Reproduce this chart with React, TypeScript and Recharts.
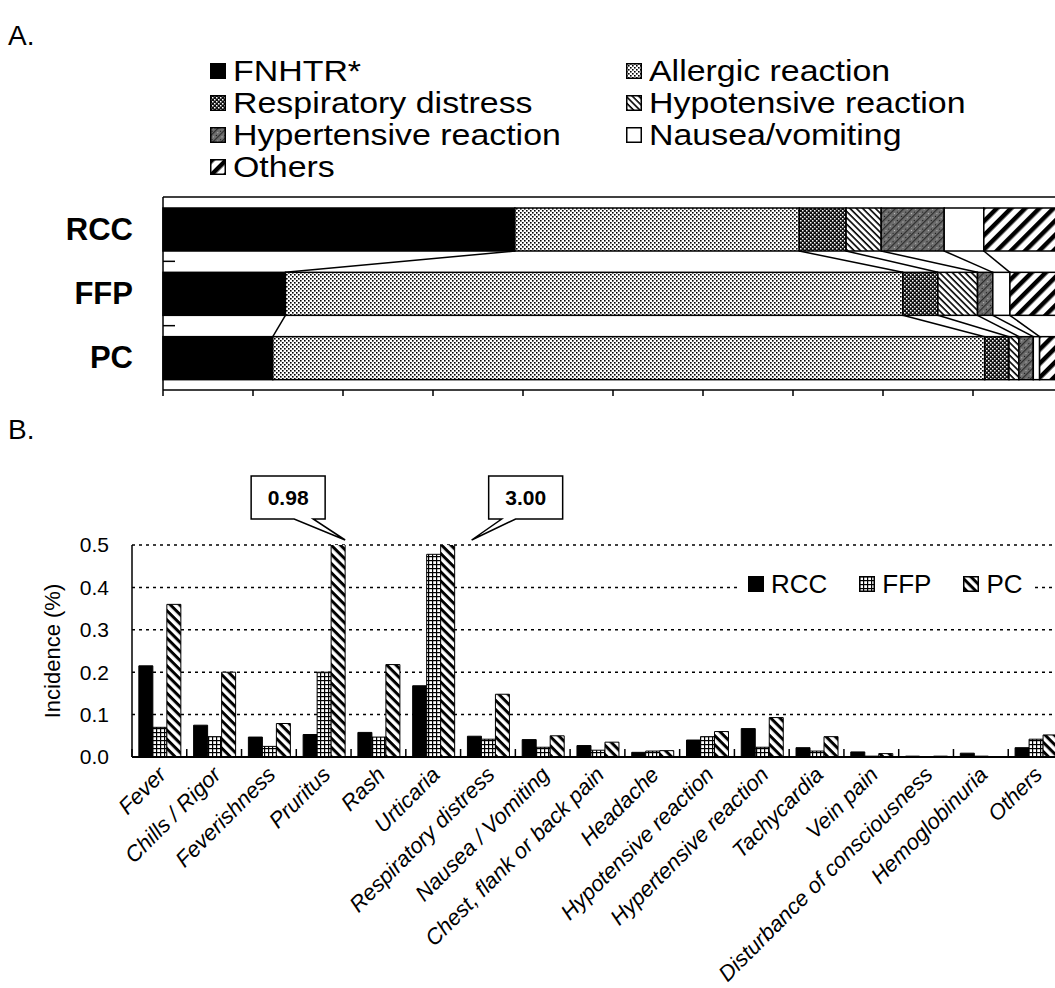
import React from 'react';
import { BarChart, Bar, XAxis, YAxis, CartesianGrid, Legend, LabelList } from 'recharts';

const FONT = 'Arial, "Liberation Sans", Helvetica, sans-serif';

// A. share of each reaction type by blood product (%)
const products = ['RCC', 'FFP', 'PC'];
const reactionKeys = ['fnhtr', 'allergic', 'respiratory', 'hypotensive', 'hypertensive', 'nausea', 'others'];
const reactionNames = ['FNHTR*', 'Allergic reaction', 'Respiratory distress', 'Hypotensive reaction', 'Hypertensive reaction', 'Nausea/vomiting', 'Others'];
const fnhtrShare = [39.1, 13.6, 12.2];
const allergicShare = [31.6, 68.6, 79.1];
const respiratoryShare = [5.2, 3.9, 2.7];
const hypotensiveShare = [3.9, 4.4, 1.1];
const hypertensiveShare = [7.0, 1.7, 1.6];
const nauseaShare = [4.4, 1.9, 0.7];
const othersShare = [8.8, 5.9, 2.6];
const shareTicks = [0, 10, 20, 30, 40, 50, 60, 70, 80, 90, 100];

// B. incidence (%) by symptom
const symptoms = [
  'Fever', 'Chills / Rigor', 'Feverishness', 'Pruritus', 'Rash', 'Urticaria', 'Respiratory distress',
  'Nausea / Vomiting', 'Chest, flank or back pain', 'Headache', 'Hypotensive reaction', 'Hypertensive reaction',
  'Tachycardia', 'Vein pain', 'Disturbance of consciousness', 'Hemoglobinuria', 'Others',
];
const rccIncidence = [0.215, 0.075, 0.047, 0.053, 0.058, 0.168, 0.049, 0.041, 0.027, 0.011, 0.04, 0.067, 0.022, 0.012, 0.002, 0.009, 0.022];
const ffpIncidence = [0.07, 0.048, 0.025, 0.2, 0.047, 0.478, 0.042, 0.023, 0.016, 0.014, 0.048, 0.023, 0.014, 0.002, 0.001, 0.002, 0.042];
const pcIncidence = [0.36, 0.2, 0.079, 0.98, 0.218, 3.0, 0.148, 0.05, 0.035, 0.015, 0.06, 0.093, 0.048, 0.008, 0.002, 0, 0.052];
const incidenceTicks = [0, 0.1, 0.2, 0.3, 0.4, 0.5];
const productKeys = ['RCC', 'FFP', 'PC'];

const shareValues = [fnhtrShare, allergicShare, respiratoryShare, hypotensiveShare, hypertensiveShare, nauseaShare, othersShare];
const shareData = products.map((product, i) => {
  const row: Record<string, any> = { product };
  reactionKeys.forEach((k, s) => { row[k] = shareValues[s][i]; });
  return row;
});
const incidenceData = symptoms.map((symptom, i) => ({
  symptom, RCC: rccIncidence[i], FFP: ffpIncidence[i], PC: pcIncidence[i],
}));

const reactionFills = ['#000', 'url(#pat-allergic)', 'url(#pat-resp)', 'url(#pat-hypo)', 'url(#pat-hyper)', '#fff', 'url(#pat-others)'];
const productFills = ['#000', 'url(#pat-ffp)', 'url(#pat-pc)'];

const CHART_W = 1100;
const RIGHT_M = 37;
const A_TOP = 197;
const A_PLOT_H = 193;
const A_BAR = 43;
const A_LEFT = 163;
const B_TOP = 460;
const B_MARGIN_TOP = 85;
const B_PLOT_H = 212;
const B_LEFT = 132;
const Y_MAX = 0.5;

const cumShare = (s: number, i: number) => shareValues.slice(0, s + 1).reduce((t, a) => t + a[i], 0);

// stacked segment + Excel style series line to the next bar
const makeSegment = (s: number) => (props: any) => {
  const { x, y, width, height, fill, index } = props;
  const band = A_PLOT_H / products.length;
  let link = null;
  if (s < reactionKeys.length - 1 && index < products.length - 1) {
    const px = width / shareValues[s][index];
    const x1 = x + width;
    const y1 = y + height;
    const x2 = x1 + (cumShare(s, index + 1) - cumShare(s, index)) * px;
    const y2 = y1 + band - height;
    link = <line x1={x1} y1={y1} x2={x2} y2={y2} stroke="#000" strokeWidth={1.5} />;
  }
  return (
    <g>
      <rect x={x} y={y} width={width} height={height} fill={fill} stroke="#000" strokeWidth={1.5} />
      {link}
    </g>
  );
};

const ProductTick = ({ x, y, payload, index }: any) => {
  const band = A_PLOT_H / products.length;
  return (
    <g>
      <text x={x} y={y} textAnchor="end" dominantBaseline="central" fontFamily={FONT} fontWeight="bold" fontSize={31} fill="#000">
        {payload.value}
      </text>
      {index < products.length - 1 && (
        <line x1={x + 30} x2={x + 42} y1={y + band / 2} y2={y + band / 2} stroke="#000" strokeWidth={1.5} />
      )}
    </g>
  );
};

const swatch = (fill: string) => (
  <svg width={16} height={16} style={{ marginRight: 7, flex: 'none' }}>
    <rect x={0.75} y={0.75} width={14.5} height={14.5} fill={fill} stroke="#000" strokeWidth={1.5} />
  </svg>
);

const ReactionLegend = ({ payload }: any) => {
  const items = [...(payload || [])].sort((a, b) => reactionKeys.indexOf(a.dataKey) - reactionKeys.indexOf(b.dataKey));
  return (
    <div style={{ display: 'grid', gridTemplateColumns: '416px 416px', fontFamily: FONT, fontSize: 30, lineHeight: '32px', color: '#000' }}>
      {items.map((e: any) => (
        <div key={e.dataKey} style={{ display: 'flex', alignItems: 'center', whiteSpace: 'nowrap', height: 32 }}>
          {swatch(e.color)}
          <span style={{ display: 'inline-block', transform: 'scaleX(1.13)', transformOrigin: 'left center' }}>{e.value}</span>
        </div>
      ))}
    </div>
  );
};

const ProductLegend = ({ payload }: any) => {
  const items = [...(payload || [])].sort((a, b) => productKeys.indexOf(a.dataKey) - productKeys.indexOf(b.dataKey));
  return (
    <div style={{ display: 'flex', alignItems: 'center', background: '#fff', padding: '2px 8px', fontFamily: FONT, fontSize: 26, lineHeight: '28px', color: '#000' }}>
      {items.map((e: any, i: number) => (
        <span key={e.dataKey} style={{ display: 'inline-flex', alignItems: 'center', marginRight: i < items.length - 1 ? 32 : 0 }}>
          {swatch(e.color)}
          {e.value}
        </span>
      ))}
    </div>
  );
};

const SymptomTick = ({ x, y, payload }: any) => {
  const band = (CHART_W - RIGHT_M - B_LEFT) / symptoms.length;
  const off = payload.offset ?? band / 2;
  const tx = x + 8;
  const ty = y + 19;
  return (
    <g>
      <line x1={x - off} x2={x - off} y1={y} y2={y - 8} stroke="#000" strokeWidth={1.5} />
      <text x={tx} y={ty} transform={`rotate(-45 ${tx} ${ty})`} textAnchor="end" fontFamily={FONT} fontStyle="italic" fontSize={22} fill="#000">
        {payload.value}
      </text>
    </g>
  );
};

const AxisTitle = ({ viewBox }: any) => {
  const cx = 52;
  const cy = viewBox ? viewBox.y + viewBox.height / 2 : 651 - B_TOP;
  return (
    <text x={cx} y={cy} transform={`rotate(-90 ${cx} ${cy})`} textAnchor="middle" dominantBaseline="central" fontFamily={FONT} fontSize={22} fill="#000">
      Incidence (%)
    </text>
  );
};

// callouts for the PC bars that run off the top of the axis
const overflowIdx = pcIncidence.map((v, i) => (v > Y_MAX ? i : -1)).filter((i) => i >= 0);
const renderCallout = (props: any) => {
  const vb = props.viewBox && props.viewBox.width !== undefined ? props.viewBox : props;
  const { x, y, width, height } = vb;
  const order = overflowIdx.indexOf(props.index);
  if (order < 0) return null;
  const base = y + height;
  const top = base - B_PLOT_H;
  const left = order === 0;
  const tipX = x + width + (left ? 0 : 17);
  const tipY = top - 5;
  const L = left ? tipX - 94 : tipX + 17;
  const R = L + 74;
  const T = tipY - 64;
  const B = tipY - 21;
  const a = left ? L + 43 : L + 13;
  const b = left ? L + 62 : L + 27;
  const d = `M${L},${T} H${R} V${B} H${b} L${tipX},${tipY} L${a},${B} H${L} Z`;
  return (
    <g>
      <path d={d} fill="#fff" stroke="#000" strokeWidth={1.5} strokeLinejoin="miter" />
      <text x={(L + R) / 2} y={(T + B) / 2} textAnchor="middle" dominantBaseline="central" fontFamily={FONT} fontWeight="bold" fontSize={21} fill="#000">
        {Number(props.value).toFixed(2)}
      </text>
    </g>
  );
};

const ShareChart = () => (
  <BarChart
    width={CHART_W}
    height={A_TOP + A_PLOT_H + 25}
    data={shareData}
    layout="vertical"
    margin={{ top: A_TOP - 1, right: RIGHT_M, bottom: 0, left: 0 }}
    barSize={A_BAR}
  >
    <defs>
      <pattern id="pat-allergic" width="4" height="4" patternUnits="userSpaceOnUse">
        <rect width="4" height="4" fill="#fff" />
        <rect x="0" y="0" width="1.6" height="1.6" fill="#000" />
        <rect x="2" y="2" width="1.6" height="1.6" fill="#000" />
      </pattern>
      <pattern id="pat-resp" width="4" height="4" patternUnits="userSpaceOnUse">
        <rect width="4" height="4" fill="#111" />
        <rect x="0" y="0" width="1.5" height="1.5" fill="#fff" />
        <rect x="2" y="2" width="1.5" height="1.5" fill="#fff" />
      </pattern>
      <pattern id="pat-hypo" width="4.5" height="4.5" patternUnits="userSpaceOnUse" patternTransform="rotate(45)">
        <rect width="4.5" height="4.5" fill="#fff" />
        <rect width="4.5" height="1.6" fill="#000" />
      </pattern>
      <pattern id="pat-hyper" width="6" height="6" patternUnits="userSpaceOnUse" patternTransform="rotate(-45)">
        <rect width="6" height="6" fill="#6e6e6e" />
        <rect width="6" height="1.2" fill="#2a2a2a" />
        <rect x="1" y="3" width="1" height="1" fill="#bbb" />
        <rect x="4" y="4" width="1" height="1" fill="#111" />
      </pattern>
      <pattern id="pat-others" width="10" height="10" patternUnits="userSpaceOnUse" patternTransform="rotate(-45)">
        <rect width="10" height="10" fill="#fff" />
        <rect width="10" height="4.5" fill="#000" />
      </pattern>
    </defs>
    <XAxis xAxisId="top" orientation="top" type="number" domain={[0, 100]} height={1} axisLine={{ stroke: '#000', strokeWidth: 1.5 }} tickLine={false} tick={() => <g />} />
    <XAxis type="number" domain={[0, 100]} ticks={shareTicks} height={25} axisLine={{ stroke: '#000', strokeWidth: 1.5 }} tickLine={{ stroke: '#000', strokeWidth: 1.5 }} tickSize={6} tick={() => <g />} />
    <YAxis type="category" dataKey="product" width={A_LEFT} axisLine={{ stroke: '#000', strokeWidth: 1.5 }} tickLine={false} tickSize={0} tickMargin={30} tick={<ProductTick />} />
    <Legend
      layout="horizontal"
      align="center"
      verticalAlign="middle"
      content={<ReactionLegend />}
      wrapperStyle={{ left: 210, top: 55, width: 860, height: 130 }}
    />
    {reactionKeys.map((k, s) => (
      <Bar
        key={k}
        dataKey={k}
        name={reactionNames[s]}
        stackId="share"
        fill={reactionFills[s]}
        shape={makeSegment(s)}
        isAnimationActive={false}
      />
    ))}
  </BarChart>
);

const IncidenceChart = () => (
  <BarChart
    width={CHART_W}
    height={B_MARGIN_TOP + B_PLOT_H + 231}
    data={incidenceData}
    margin={{ top: B_MARGIN_TOP, right: RIGHT_M, bottom: 0, left: 0 }}
    barCategoryGap="12.5%"
    barGap={0}
  >
    <defs>
      <pattern id="pat-ffp" width="4" height="4" patternUnits="userSpaceOnUse">
        <rect width="4" height="4" fill="#fff" />
        <rect width="4" height="1.2" fill="#000" />
        <rect width="1.2" height="4" fill="#000" />
      </pattern>
      <pattern id="pat-pc" width="6.5" height="6.5" patternUnits="userSpaceOnUse" patternTransform="rotate(45)">
        <rect width="6.5" height="6.5" fill="#fff" />
        <rect width="6.5" height="3" fill="#000" />
      </pattern>
    </defs>
    <CartesianGrid vertical={false} stroke="#000" strokeWidth={1.5} strokeDasharray="3 4" />
    <XAxis
      dataKey="symptom"
      interval={0}
      height={231}
      axisLine={{ stroke: '#000', strokeWidth: 2 }}
      tickLine={false}
      tickSize={0}
      tickMargin={0}
      tick={<SymptomTick />}
    />
    <YAxis
      domain={[0, Y_MAX]}
      allowDataOverflow
      ticks={incidenceTicks}
      width={B_LEFT}
      axisLine={{ stroke: '#000', strokeWidth: 1.5 }}
      tickLine={false}
      tickSize={0}
      tickMargin={23}
      tickFormatter={(v: number) => v.toFixed(1)}
      tick={{ fill: '#000', fontSize: 21, fontFamily: FONT }}
      label={<AxisTitle />}
    />
    <Legend
      layout="horizontal"
      align="center"
      verticalAlign="middle"
      content={<ProductLegend />}
      wrapperStyle={{ left: 740, top: 584 - B_TOP - 16, width: 'auto' }}
    />
    {productKeys.map((k, i) => (
      <Bar key={k} dataKey={k} name={k} fill={productFills[i]} stroke="#000" strokeWidth={1} isAnimationActive={false}>
        {k === 'PC' && <LabelList dataKey="PC" content={renderCallout} />}
      </Bar>
    ))}
  </BarChart>
);

export default function App() {
  return (
    <div style={{ position: 'fixed', left: 0, top: 0, width: 1055, height: 988, overflow: 'hidden', background: '#fff', fontFamily: FONT, color: '#000' }}>
      <div style={{ position: 'absolute', left: 0, top: 0 }}>
        <ShareChart />
      </div>
      <div style={{ position: 'absolute', left: 0, top: B_TOP }}>
        <IncidenceChart />
      </div>
      <div style={{ position: 'absolute', left: 8, top: 22, fontSize: 28, lineHeight: '28px' }}>A.</div>
      <div style={{ position: 'absolute', left: 8, top: 416, fontSize: 28, lineHeight: '28px' }}>B.</div>
    </div>
  );
}
